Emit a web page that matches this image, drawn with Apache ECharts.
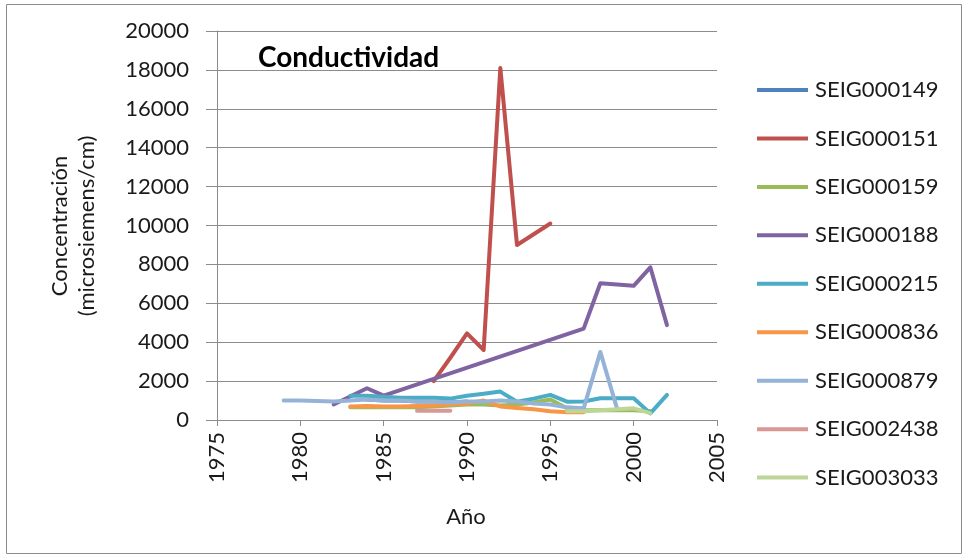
<!DOCTYPE html>
<html>
<head>
<meta charset="utf-8">
<script src="https://cdn.jsdelivr.net/npm/echarts@6/dist/echarts.min.js"></script>
<style>
html,body{margin:0;padding:0;background:#fff;}
#chart{width:968px;height:559px;}
</style>
</head>
<body>
<div id="chart"></div>
<script>
// ---- data ----
const seriesNames = ['SEIG000149','SEIG000151','SEIG000159','SEIG000188','SEIG000215','SEIG000836','SEIG000879','SEIG002438','SEIG003033'];
const seriesColors = ['#4F81BD','#C0504D','#9BBB59','#8064A2','#4BACC6','#F79646','#95B3D7','#D99795','#BDD597'];

const years149 = [1984,1985,1986,1987,1988,1989,1990];
const vals149  = [1050,1000,1000,950,950,900,950];

const years151 = [1988,1989,1990,1991,1992,1993,1995];
const vals151  = [2000,3200,4450,3600,18100,9000,10100];

const years159 = [1983,1984,1985,1986,1987,1988,1989,1990,1991,1992,1993,1994,1995,1996,1997,1998,1999,2000,2001];
const vals159  = [650,650,650,650,650,700,750,800,800,750,800,900,1050,600,500,500,500,500,450];

const years188 = [1982,1984,1985,1997,1998,2000,2001,2002];
const vals188  = [800,1630,1250,4700,7030,6900,7850,4880];

const years215 = [1983,1984,1985,1986,1987,1988,1989,1990,1991,1992,1993,1994,1995,1996,1997,1998,1999,2000,2001,2002];
const vals215  = [1250,1250,1200,1150,1150,1150,1100,1250,1350,1460,940,1100,1290,940,950,1120,1120,1120,340,1290];

const years836 = [1983,1984,1985,1986,1987,1988,1989,1990,1991,1992,1993,1994,1995,1996,1997];
const vals836  = [700,720,700,700,720,750,800,850,1000,700,620,550,450,400,400];

const years879 = [1979,1980,1981,1982,1983,1984,1985,1986,1987,1988,1989,1990,1991,1992,1993,1994,1995,1996,1997,1998,1999];
const vals879  = [1000,1000,980,950,1000,1050,1000,1000,950,950,900,950,950,1000,950,850,800,650,600,3500,600];

const years2438 = [1987,1988,1989];
const vals2438  = [480,480,480];

const years3033 = [1996,1997,1998,1999,2000,2001];
const vals3033  = [450,450,500,550,600,350];

const xTickMin = 1975, xTickMax = 2005, xTickStep = 5;
const yTickMin = 0, yTickMax = 20000, yTickStep = 2000;

const chartTitle = 'Conductividad';
const xTitle = 'Año';
const yTitle = 'Concentración\n(microsiemens/cm)';

// ---- build ----
const allYears = [years149,years151,years159,years188,years215,years836,years879,years2438,years3033];
const allVals  = [vals149,vals151,vals159,vals188,vals215,vals836,vals879,vals2438,vals3033];

const FONT = 'Lato';
const series = seriesNames.map((name, i) => ({
  name: name,
  type: 'line',
  data: allYears[i].map((y, k) => [y, allVals[i][k]]),
  symbol: 'none',
  showSymbol: false,
  lineStyle: { width: 4, color: seriesColors[i], join: 'round', cap: 'round' },
  itemStyle: { color: seriesColors[i] },
  emphasis: { disabled: true }
}));

const chart = echarts.init(document.getElementById('chart'), null, { renderer: 'canvas' });
chart.setOption({
  animation: false,
  backgroundColor: '#ffffff',
  textStyle: { fontFamily: FONT },
  grid: { left: 217, right: 251, top: 31, bottom: 139, containLabel: false },
  xAxis: {
    type: 'value',
    min: xTickMin, max: xTickMax, interval: xTickStep,
    axisLine: { show: true, lineStyle: { color: '#8c8c8c', width: 1 } },
    axisTick: { show: true, length: 6, lineStyle: { color: '#8c8c8c' } },
    splitLine: { show: false },
    axisLabel: { rotate: 90, margin: 12, fontSize: 22, color: '#1a1a1a', fontFamily: FONT, formatter: v => String(v) }
  },
  yAxis: {
    type: 'value',
    min: yTickMin, max: yTickMax, interval: yTickStep,
    axisLine: { show: true, lineStyle: { color: '#8c8c8c', width: 1 } },
    axisTick: { show: true, length: 11, lineStyle: { color: '#8c8c8c' } },
    splitLine: { show: true, lineStyle: { color: '#8c8c8c', width: 1 } },
    axisLabel: { margin: 28, fontSize: 22, color: '#1a1a1a', fontFamily: FONT, formatter: v => String(v) }
  },
  legend: {
    orient: 'vertical',
    left: 757, top: 79,
    padding: 0,
    itemWidth: 51, itemHeight: 4,
    itemGap: 26.45,
    icon: 'rect',
    textStyle: { fontSize: 22, lineHeight: 20, color: '#1a1a1a', fontFamily: FONT, padding: [0,0,0,2] },
    data: seriesNames,
    selectedMode: false
  },
  graphic: [
    { type: 'rect', shape: { x: 6.5, y: 4.5, width: 955, height: 549 }, style: { fill: 'none', stroke: '#8c8c8c', lineWidth: 1 }, silent: true, z: -1 },
    { type: 'text', x: 258, y: 58, style: { text: chartTitle, fontFamily: FONT, fontWeight: 'bold', fontSize: 28, fill: '#000', textAlign: 'left', textVerticalAlign: 'middle' } },
    { type: 'text', x: 466, y: 517, style: { text: xTitle, fontFamily: FONT, fontSize: 22, fill: '#1a1a1a', textAlign: 'center', textVerticalAlign: 'middle' } },
    { type: 'text', x: 73, y: 226, rotation: Math.PI / 2, style: { text: yTitle, fontFamily: FONT, fontSize: 22, lineHeight: 27, fill: '#1a1a1a', textAlign: 'center', textVerticalAlign: 'middle' } }
  ],
  series: series
});
</script>
</body>
</html>
